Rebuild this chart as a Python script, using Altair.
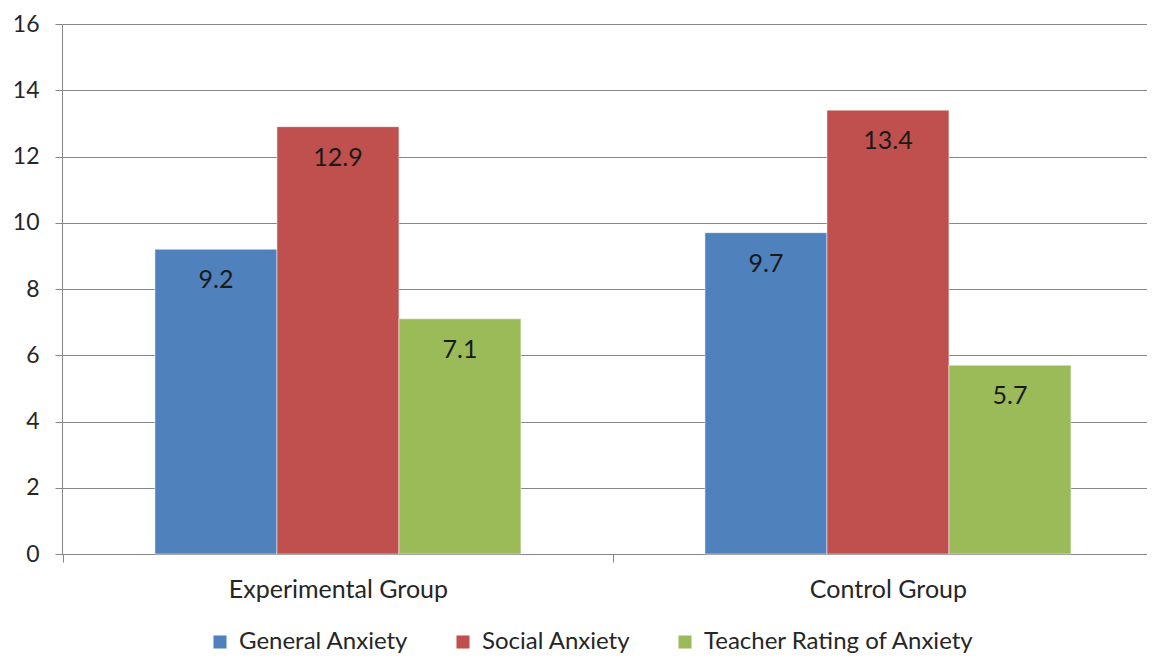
import altair as alt
import pandas as pd

groups = ["Experimental Group", "Control Group"]
series = ["General Anxiety", "Social Anxiety", "Teacher Rating of Anxiety"]
experimental = [9.2, 12.9, 7.1]
control = [9.7, 13.4, 5.7]
colors = ["#4F81BD", "#C0504D", "#9BBB59"]

rows = []
for g, vals in zip(groups, [experimental, control]):
    for s, v in zip(series, vals):
        rows.append({"group": g, "series": s, "value": v})
df = pd.DataFrame(rows)

FONT = "Lato"
W = 1085
HALF = 275

x = alt.X("group:N", sort=groups, title=None,
          scale=alt.Scale(paddingInner=0.3345, paddingOuter=0.1536, align=0.55),
          axis=alt.Axis(labelAngle=0, labelFontSize=25, labelColor="#262626",
                        labelPadding=15, tickSize=8, tickOffset=-HALF, labelOffset=HALF,
                        labelLimit=0,
                        tickColor="#868686", domainColor="#868686", labelFont=FONT))
xo = alt.XOffset("series:N", sort=series)
y = alt.Y("value:Q", title=None,
          scale=alt.Scale(domain=[0, 16], nice=False),
          axis=alt.Axis(values=[0, 2, 4, 6, 8, 10, 12, 14, 16], labelFontSize=23,
                        labelColor="#262626", labelPadding=16, tickSize=7,
                        tickColor="#868686", domainColor="#868686",
                        gridColor="#868686", labelFont=FONT))

bars = alt.Chart(df).mark_bar(stroke="white", strokeWidth=0.5).encode(
    x=x, xOffset=xo, y=y,
    color=alt.Color("series:N", sort=series, title=None,
                    scale=alt.Scale(domain=series, range=colors),
                    legend=alt.Legend(orient="none", legendX=146, legendY=606,
                                      direction="horizontal", symbolType="square",
                                      symbolSize=170, symbolStrokeWidth=0,
                                      labelFontSize=24, labelColor="#262626",
                                      labelFont=FONT, columnPadding=42, labelLimit=0,
                                      symbolOffset=0, labelOffset=7))
)

labels = alt.Chart(df).mark_text(dy=31, fontSize=25, color="#1a1a1a", font=FONT,
                                 baseline="middle").encode(
    x=alt.X("group:N", sort=groups), xOffset=xo, y="value:Q",
    text=alt.Text("value:Q", format=".1f")
)

chart = alt.layer(bars, labels).properties(
    width=W, height=530,
    autosize=alt.AutoSizeParams(type="none"),
    padding={"left": 54, "top": 16, "right": 0, "bottom": 100},
).configure_view(stroke=None).configure(font=FONT)

chart.save("out.html", embed_options={"renderer": "svg", "actions": False})
